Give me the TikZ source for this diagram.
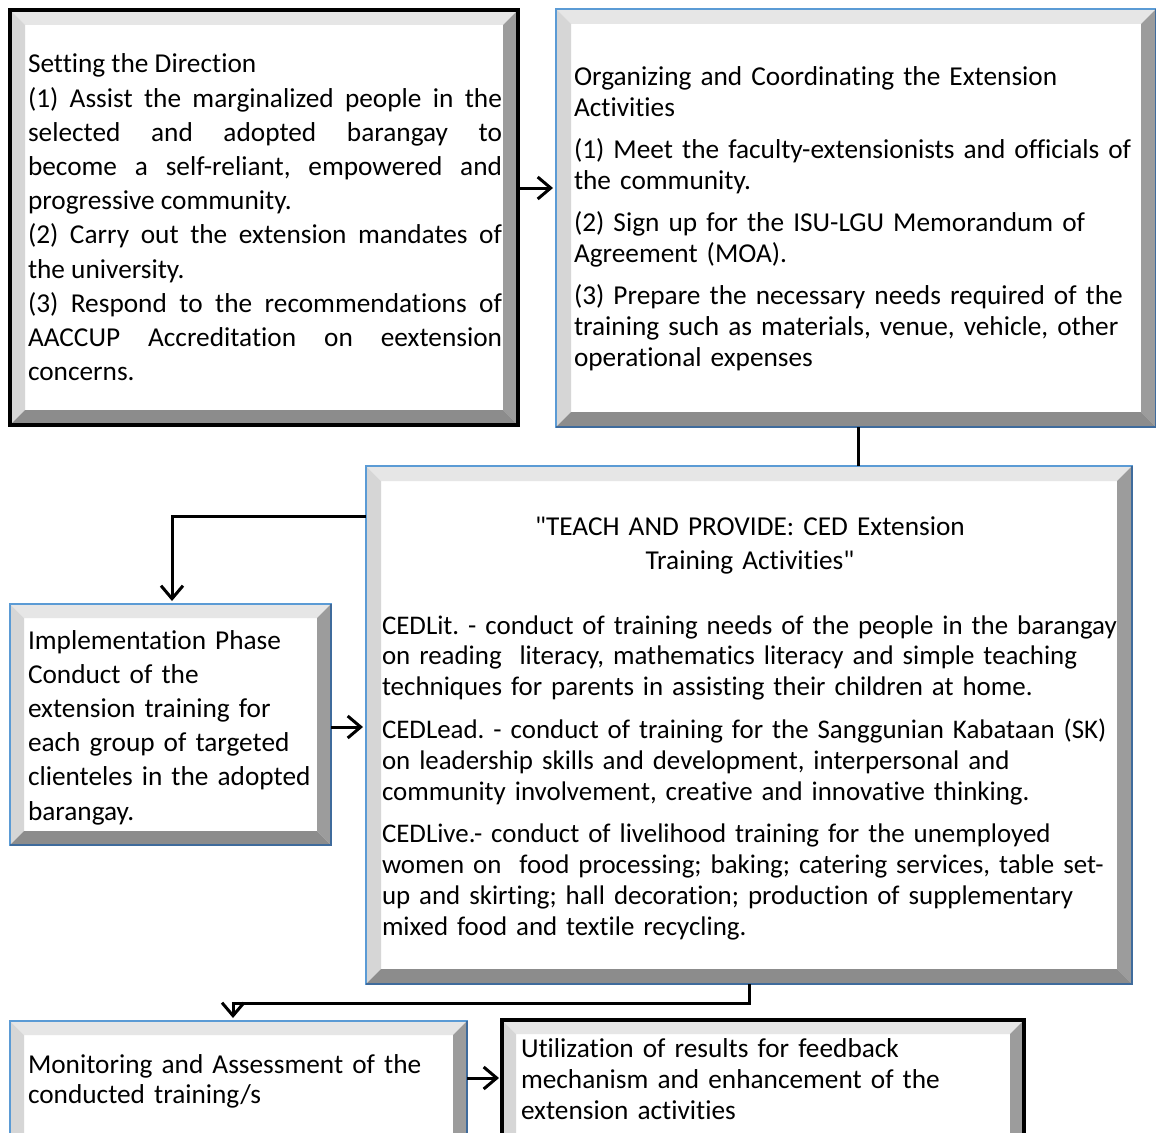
\documentclass[tikz,border=0pt]{standalone}
\usepackage{fontspec}
\setmainfont{Carlito}[Ligatures={TeXOff,NoCommon}]
\usetikzlibrary{arrows.meta,calc}
\definecolor{bvtop}{HTML}{E6E6E6}
\definecolor{bvleft}{HTML}{D6D6D6}
\definecolor{bvright}{HTML}{9C9C9C}
\definecolor{bvbottom}{HTML}{8C8C8C}
\definecolor{bluelight}{HTML}{5B9BD5}
\definecolor{bluedark}{HTML}{3F6B9C}
\tikzset{
  blackbord/.style={draw=black,line width=4pt},
  bluebord/.style={draw=bluelight,line width=2.2pt},
  bluedarkbord/.style={draw=bluedark,line width=2.6pt},
  txt/.style={inner sep=0pt,outer sep=0pt,anchor=base west,align=left},
  conn/.style={line width=3pt},
  arr/.style={line width=3pt,-{Straight Barb[length=13pt,width=22pt]},shorten >=3pt},
}
\newcommand\fs[1]{\fontsize{27.3}{#1}\selectfont\frenchspacing}
\newcommand\bevbox[7]{%
  \node[inner sep=0pt,outer sep=0pt,minimum width={(#4-#2)*1pt},minimum height={(#5-#3)*1pt},anchor=north west] (#1) at (#2,#3) {};
  \fill[white] (#1.north west) rectangle (#1.south east);
  \fill[bvtop] (#1.north west) -- (#1.north east) -- ([shift={(-#6,#6)}]#1.north east) -- ([shift={(#6,#6)}]#1.north west) -- cycle;
  \fill[bvleft] (#1.north west) -- (#1.south west) -- ([shift={(#6,-#6)}]#1.south west) -- ([shift={(#6,#6)}]#1.north west) -- cycle;
  \fill[bvright] (#1.north east) -- (#1.south east) -- ([shift={(-#6,-#6)}]#1.south east) -- ([shift={(-#6,#6)}]#1.north east) -- cycle;
  \fill[bvbottom] (#1.south west) -- (#1.south east) -- ([shift={(-#6,-#6)}]#1.south east) -- ([shift={(#6,-#6)}]#1.south west) -- cycle;
  \draw[#7] (#1.north west) rectangle (#1.south east);
}
\newcommand\darkedge[1]{\draw[bluedarkbord] (#1.north east) -- (#1.south east) -- (#1.south west);}
\begin{document}
\begin{tikzpicture}[x=1pt,y=-1pt]
\useasboundingbox (0,0) rectangle (1156,1132);
\clip (0,0) rectangle (1156,1132);

% boxes
\bevbox{b1}{10}{10}{518}{425}{15}{blackbord}
\bevbox{b2}{556}{9}{1156}{427}{15}{bluebord}\darkedge{b2}
\bevbox{b3}{366}{466}{1132}{984}{15}{bluebord}\darkedge{b3}
\bevbox{b4}{10}{604}{331}{845}{14}{bluebord}\darkedge{b4}
\bevbox{b5}{10}{1021}{467}{1160}{14}{bluebord}\darkedge{b5}
\bevbox{b6}{502}{1020}{1024}{1160}{14}{blackbord}

% texts
\node[inner sep=0pt,outer sep=0pt,anchor=base west,align=justify,text width=474pt,font=\fs{34.2}] (t1) at (28,73) {%
\parindent=0pt\parskip=0pt
Setting the Direction\par
(1) Assist the marginalized people in the\linebreak
selected and adopted barangay to\linebreak
become a self-reliant, empowered and\linebreak
progressive community.\par
(2) Carry out the extension mandates of\linebreak
the university.\par
(3) Respond to the recommendations of\linebreak
AACCUP Accreditation on eextension\linebreak
concerns.};

\node[txt,text width=700pt,font=\fs{31}] (t2) at (574,85) {%
Organizing and Coordinating the Extension\\
Activities\\[11pt]
(1) Meet the faculty-extensionists and officials of\\
the community.\\[11pt]
(2) Sign up for the ISU-LGU Memorandum of\\
Agreement (MOA).\\[11pt]
(3) Prepare the necessary needs required of the\\
training such as materials, venue, vehicle, other\\
operational expenses};

\node[inner sep=0pt,anchor=base,align=center,text width=700pt,font=\fs{34}] (t3a) at (750,535) {%
"TEACH AND PROVIDE: CED Extension\\
Training Activities"};

\node[txt,text width=900pt,font=\fontsize{26.9}{30.8}\selectfont\frenchspacing] (t3) at (382,634) {%
CEDLit. - conduct of training needs of the people in the barangay\\
on reading\ \ literacy, mathematics literacy and simple teaching\\
techniques for parents in assisting their children at home.\\[12pt]
CEDLead. - conduct of training for the Sanggunian Kabataan (SK)\\
on leadership skills and development, interpersonal and\\
community involvement, creative and innovative thinking.\\[12pt]
CEDLive.- conduct of livelihood training for the unemployed\\
women on\ \ food processing; baking; catering services, table set-\\
up and skirting; hall decoration; production of supplementary\\
mixed food and textile recycling.};

\node[txt,text width=500pt,font=\fs{34.2}] (t4) at (28,649) {%
Implementation Phase\\
Conduct of the\\
extension training for\\
each group of targeted\\
clienteles in the adopted\\
barangay.};

\node[txt,text width=600pt,font=\fs{30}] (t5) at (28,1073) {%
Monitoring and Assessment of the\\
conducted training/s};

\node[txt,text width=600pt,font=\fs{31}] (t6) at (521,1057) {%
Utilization of results for feedback\\
mechanism and enhancement of the\\
extension activities};

% connectors
\coordinate (c1) at (0,188);
\coordinate (c2) at (858,0);
\coordinate (c3) at (0,516);
\coordinate (c4) at (172,0);
\coordinate (c5) at (0,727);
\coordinate (c6) at (749,0);
\coordinate (k) at (233,1003);
\coordinate (c8) at (0,1078);
\draw[arr] (b1.east |- c1) -- (b2.west |- c1);
\draw[conn] (b2.south -| c2) -- (b3.north -| c2);
\draw[arr] (b3.west |- c3) -| (b4.north -| c4);
\draw[arr] (b4.east |- c5) -- (b3.west |- c5);
\draw[arr] (b3.south -| c6) |- (k) -- (b5.north -| k);
\draw[arr] (b5.east |- c8) -- (b6.west |- c8);
\end{tikzpicture}
\end{document}
